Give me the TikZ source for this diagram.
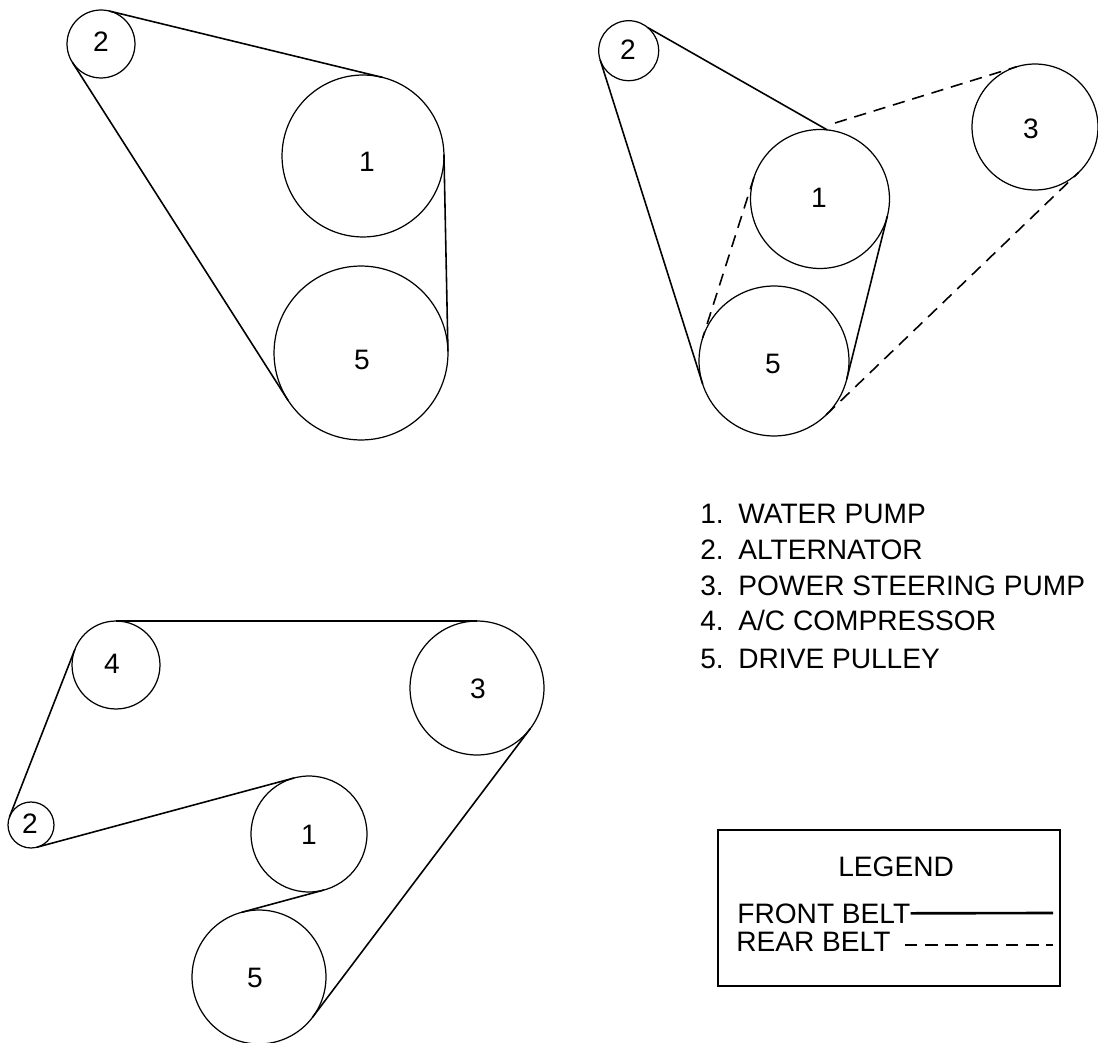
\documentclass[tikz,border=0pt]{standalone}
\usepackage{fontspec}
\setmainfont{Liberation Sans}
\usepackage{tikz}

\begin{document}
\begin{tikzpicture}
[x=0.02cm, y=-0.02cm,
pulley/.style={draw, circle, line width=0.7pt, inner sep=0pt, outer sep=0pt, minimum size=#1*0.04cm},
digit/.style={inner sep=0pt, font=\fontsize{16}{19}\selectfont},
front/.style={line width=0.9pt},
rear/.style={line width=0.9pt, dash pattern=on 7pt off 4.5pt},
txt/.style={anchor=base west, inner sep=0pt, font=\fontsize{16}{19}\selectfont}]

\useasboundingbox (0,0) rectangle (1098,1043);

\begin{scope}
\node[pulley=34] (a2) at (101,44) {};
\node[pulley=81] (a1) at (363,156) {};
\node[pulley=87] (a5) at (361,353) {};
\node[digit] (a2t) at (101,42) {2};
\node[digit] (a1t) at (367,162) {1};
\node[digit] (a5t) at (362,360) {5};
\draw[front] (a2.76) -- (a1.76);
\draw[front] (a1.1) -- (a5.1);
\draw[front] (a2.-147) -- (a5.-147);
\end{scope}

\begin{scope}
\node[pulley=30] (b2) at (628.7,50.7) {};
\node[pulley=69.5] (b1) at (820,199) {};
\node[pulley=75] (b5) at (774,361) {};
\node[pulley=63] (b3) at (1035,127) {};
\node[digit] (b2t) at (628,50) {2};
\node[digit] (b1t) at (819,198) {1};
\node[digit] (b5t) at (773,364) {5};
\node[digit] (b3t) at (1031,129) {3};
\coordinate (bstart) at (835,123);
\draw[front] (b2.50) -- (b1.84);
\draw[front] (b2.-162) -- (b5.-162);
\draw[front] (b1.-14) -- (b5.-14);
\draw[rear] (b1.162) -- (b5.162);
\draw[rear] (bstart) -- (b3.107);
\draw[rear] (b5.-46) -- (b3.-46);
\end{scope}

\begin{scope}
\node[pulley=44] (c4) at (116,665) {};
\node[pulley=67] (c3) at (477,688) {};
\node[pulley=23] (c2) at (31,825) {};
\node[pulley=58] (c1) at (309,834) {};
\node[pulley=67] (c5) at (259,977) {};
\node[digit] (c4t) at (112,664) {4};
\node[digit] (c3t) at (478,689) {3};
\node[digit] (c2t) at (30,824) {2};
\node[digit] (c1t) at (309,835) {1};
\node[digit] (c5t) at (255,978) {5};
\draw[front] (c4.90) -- (c3.90);
\draw[front] (c2.159) -- (c4.159);
\draw[front] (c2.-75) -- (c1.105);
\draw[front] (c1.-75) -- (c5.105);
\draw[front] (c5.-37) -- (c3.-37);
\end{scope}

\node[txt] (n1) at (700,523) {1.};
\node[txt] (n2) at (700,559) {2.};
\node[txt] (n3) at (700,595) {3.};
\node[txt] (n4) at (700,630) {4.};
\node[txt] (n5) at (700,668) {5.};
\node[txt] (water) at (738,523) {WATER PUMP};
\node[txt] (alternator) at (738,559) {ALTERNATOR};
\node[txt] (steering) at (738,595) {POWER STEERING PUMP};
\node[txt] (compressor) at (738,630) {A/C COMPRESSOR};
\node[txt] (drive) at (738,668) {DRIVE PULLEY};

\node[draw, line width=1pt, minimum width=6.84cm, minimum height=3.12cm, inner sep=0pt] (legend) at (889,908) {};
\node[txt] (legendtitle) at (838,876) {LEGEND};
\node[txt] (frontlabel) at (737,923) {FRONT BELT};
\node[txt] (rearlabel) at (736,951) {REAR BELT};
\coordinate (frontend) at (1053,913);
\coordinate (rearstart) at (905,945);
\coordinate (rearend) at (1053,945);
\draw[line width=1.5pt] (frontlabel.east) -- (frontend);
\draw[rear, line width=1.2pt] (rearstart) -- (rearend);
\end{tikzpicture}
\end{document}
